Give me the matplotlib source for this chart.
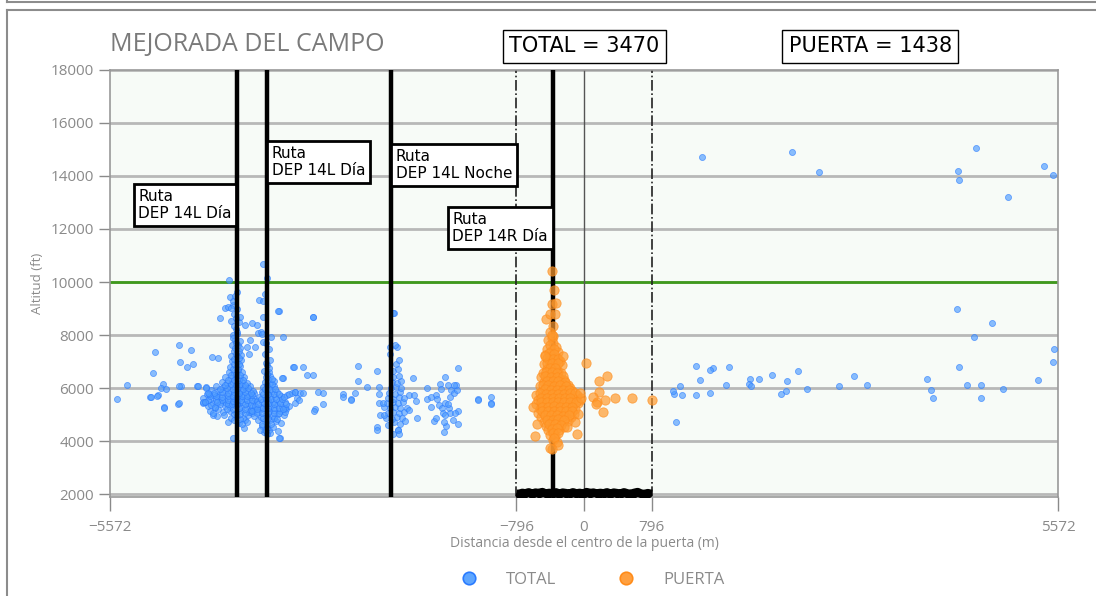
import numpy as np
import matplotlib.pyplot as plt
from matplotlib.lines import Line2D
from matplotlib.transforms import offset_copy

# Axis limits and ticks
x_lim = 5572
x_ticks = [-5572, -796, 0, 796, 5572]
y_ticks = [2000, 4000, 6000, 8000, 10000, 12000, 14000, 16000, 18000]
gate_half = 796
ceiling = 10000

# Route lines (x in m) and their labels
route_x = [-4081, -3728, -2270, -365]
route_labels = ["Ruta\nDEP 14L Día", "Ruta\nDEP 14L Día", "Ruta\nDEP 14L Noche", "Ruta\nDEP 14R Día"]
route_label_top = [13660, 15280, 15170, 12790]
route_label_side = ["right", "left", "left", "right"]

total_count = 3470
gate_count = 1438

# TOTAL tracks - dense cluster on the first route
cluster_a = [
    (-4185, 4720), (-4060, 4690), (-3985, 4780), (-4310, 4930), (-4155, 4880), (-4075, 4960), (-4005, 4870), (-3945, 4990),
    (-4395, 5120), (-4245, 5080), (-4160, 5150), (-4095, 5060), (-4025, 5130), (-3935, 5090), (-3875, 5170),
    (-4425, 5310), (-4335, 5260), (-4225, 5340), (-4165, 5280), (-4105, 5360), (-4035, 5290), (-3965, 5330), (-3905, 5270),
    (-4455, 5460), (-4365, 5420), (-4285, 5490), (-4205, 5440), (-4125, 5470), (-4065, 5410), (-4015, 5480), (-3945, 5430), (-3885, 5500),
    (-4475, 5620), (-4395, 5580), (-4315, 5650), (-4235, 5590), (-4165, 5630), (-4105, 5570), (-4045, 5640), (-3985, 5600), (-3925, 5660), (-3865, 5580),
    (-4435, 5760), (-4355, 5730), (-4275, 5790), (-4195, 5740), (-4115, 5780), (-4055, 5720), (-4005, 5770), (-3935, 5750), (-3875, 5800),
    (-4385, 5910), (-4305, 5880), (-4215, 5940), (-4145, 5890), (-4085, 5930), (-4035, 5870), (-3965, 5920), (-3895, 5880),
    (-4325, 6060), (-4245, 6020), (-4175, 6090), (-4105, 6040), (-4055, 6080), (-3985, 6030), (-3925, 6070),
    (-4255, 6210), (-4195, 6180), (-4125, 6240), (-4075, 6190), (-4025, 6230), (-3965, 6200),
    (-4215, 6400), (-4145, 6360), (-4095, 6430), (-4045, 6380), (-3995, 6410),
    (-4175, 6610), (-4115, 6580), (-4065, 6640), (-4025, 6600),
    (-4165, 6810), (-4095, 6780), (-4045, 6830),
    (-4135, 7010), (-4085, 6980), (-4035, 7040),
    (-4145, 7220), (-4075, 7190), (-4030, 7250),
    (-4115, 7410), (-4055, 7380), (-4135, 7610), (-4070, 7640),
    (-4105, 7820), (-4050, 7790), (-4125, 8010), (-4075, 8050),
    (-4095, 8230), (-4145, 8520), (-4060, 8480), (-4115, 8810),
]

# second layer of the first route cluster (fills the blob)
cluster_a_fill = [
    (-4120, 4800), (-4040, 4830), (-4230, 5000), (-4120, 5010), (-4050, 5020), (-3980, 5040), (-3900, 5050),
    (-4300, 5200), (-4200, 5220), (-4130, 5190), (-4060, 5230), (-3990, 5200), (-3920, 5180), (-3850, 5230),
    (-4380, 5370), (-4280, 5390), (-4190, 5380), (-4140, 5410), (-4080, 5400), (-3990, 5380), (-3920, 5370),
    (-4420, 5530), (-4330, 5550), (-4250, 5530), (-4180, 5540), (-4130, 5520), (-4080, 5510), (-4030, 5550), (-3960, 5530), (-3900, 5560),
    (-4400, 5690), (-4330, 5700), (-4250, 5680), (-4180, 5700), (-4130, 5690), (-4080, 5660), (-4020, 5700), (-3960, 5690), (-3900, 5720),
    (-4350, 5830), (-4260, 5850), (-4180, 5820), (-4110, 5850), (-4060, 5820), (-3990, 5840), (-3920, 5820),
    (-4280, 5980), (-4200, 6000), (-4130, 5970), (-4070, 6000), (-4010, 5980), (-3950, 6000),
    (-4220, 6120), (-4150, 6140), (-4090, 6130), (-4040, 6150), (-3990, 6120),
    (-4180, 6300), (-4110, 6290), (-4060, 6310), (-4010, 6300),
    (-4150, 6500), (-4090, 6520), (-4040, 6490), (-4130, 6710), (-4070, 6720),
    (-4110, 6900), (-4060, 6910), (-4120, 7110), (-4060, 7120), (-4095, 7300),
    (-4100, 7500), (-4040, 7520), (-4090, 7700), (-4130, 7900), (-4085, 8120), (-4110, 8350), (-4090, 8650),
    (-4080, 9000), (-4130, 9150),
]

# TOTAL tracks - second route
cluster_b = [
    (-3760, 4350), (-3700, 4420), (-3790, 4560), (-3725, 4610), (-3660, 4540),
    (-3830, 4780), (-3755, 4740), (-3690, 4810), (-3620, 4760),
    (-3880, 4960), (-3800, 4920), (-3740, 4990), (-3670, 4940), (-3600, 5010), (-3530, 4970),
    (-3900, 5150), (-3830, 5110), (-3765, 5180), (-3705, 5130), (-3640, 5170), (-3570, 5120), (-3500, 5190),
    (-3870, 5330), (-3800, 5290), (-3735, 5360), (-3675, 5310), (-3610, 5350), (-3545, 5300), (-3470, 5340),
    (-3850, 5500), (-3780, 5470), (-3720, 5530), (-3660, 5490), (-3590, 5520), (-3520, 5470),
    (-3820, 5680), (-3755, 5650), (-3695, 5710), (-3630, 5670), (-3565, 5700),
    (-3790, 5860), (-3730, 5830), (-3670, 5890), (-3610, 5850),
    (-3770, 6040), (-3710, 6010), (-3650, 6070),
    (-3750, 6230), (-3695, 6200), (-3640, 6260),
    (-3740, 6420), (-3690, 6460), (-3760, 6640), (-3705, 6610),
    (-3725, 6850), (-3690, 7050), (-3745, 7280), (-3700, 7480), (-3735, 7700), (-3680, 7920),
]

cluster_b_fill = [
    (-3730, 4500), (-3680, 4660), (-3770, 4850), (-3710, 4870), (-3640, 4860),
    (-3850, 5050), (-3780, 5050), (-3720, 5060), (-3650, 5070), (-3580, 5060), (-3520, 5080),
    (-3840, 5220), (-3770, 5240), (-3710, 5230), (-3650, 5250), (-3580, 5230), (-3510, 5250),
    (-3830, 5410), (-3760, 5420), (-3700, 5430), (-3640, 5410), (-3570, 5420), (-3500, 5400),
    (-3800, 5590), (-3740, 5600), (-3680, 5580), (-3620, 5600), (-3550, 5590),
    (-3770, 5760), (-3710, 5770), (-3650, 5760), (-3590, 5780),
    (-3750, 5950), (-3690, 5960), (-3630, 5950), (-3730, 6130), (-3670, 6140),
    (-3720, 6330), (-3670, 6340), (-3730, 6530), (-3700, 6750), (-3740, 6950),
]

# TOTAL tracks - night route
cluster_c = [
    (-2250, 4280), (-2190, 4420), (-2300, 4610), (-2230, 4700), (-2160, 4650),
    (-2330, 4880), (-2260, 4840), (-2200, 4920), (-2140, 4860),
    (-2310, 5060), (-2240, 5110), (-2180, 5040), (-2120, 5100),
    (-2350, 5270), (-2280, 5230), (-2220, 5300), (-2160, 5250),
    (-2320, 5440), (-2250, 5480), (-2190, 5420), (-2130, 5460),
    (-2300, 5640), (-2240, 5600), (-2180, 5670), (-2120, 5620),
    (-2290, 5830), (-2220, 5790), (-2160, 5850),
    (-2270, 6010), (-2210, 6050), (-2150, 5990),
    (-2260, 6220), (-2200, 6180), (-2150, 6250),
    (-2240, 6420), (-2180, 6460), (-2250, 6650), (-2190, 6700),
    (-2210, 6900), (-2170, 7050), (-2280, 7290), (-2200, 7560), (-2222, 7620), (-2234, 8820),
]

# TOTAL tracks - scattered points
blue_scatter = [
    (-5496, 5580), (-5370, 6110), (-5072, 6550), (-5041, 7370), (-5104, 5670), (-5010, 5740),
    (-4955, 6140), (-4974, 6010), (-4919, 5960), (-4936, 5280), (-5092, 5660), (-5021, 5700),
    (-4933, 5250), (-4775, 5400), (-4743, 6070), (-4545, 6070), (-4475, 5430), (-4445, 6040), (-4410, 5780), (-4363, 4980),
    (-4759, 7620), (-4751, 6990), (-4759, 6060), (-4767, 5450), (-4622, 7420), (-4602, 6890), (-4665, 6790),
    (-4539, 6060), (-4445, 6010), (-4477, 5490), (-4457, 5490), (-4422, 5820), (-4375, 7180), (-4304, 7140),
    (-4359, 5040), (-4281, 8630), (-4218, 9010), (-4190, 9070), (-4155, 9010), (-4171, 10070), (-4163, 9430),
    (-4130, 9280), (-4100, 9480), (-4080, 9630), (-4045, 8690), (-3987, 8380), (-3908, 8440), (-3849, 8380),
    (-3830, 8060), (-3800, 8100), (-3785, 8050), (-3770, 7750), (-3928, 7810), (-3866, 7560), (-3956, 7530), (-3940, 7300),
    (-3818, 9320), (-3779, 9300), (-3771, 8690), (-3751, 9540), (-3732, 10160), (-3775, 10670),
    (-3590, 8910), (-3536, 7910), (-3418, 6800), (-3544, 6360), (-3399, 5860), (-3438, 5800), (-3497, 5740), (-3379, 5610),
    (-3575, 4120), (-3693, 4300), (-3732, 4250), (-3751, 4400), (-3810, 4430), (-3790, 4640),
    (-3963, 4700), (-4002, 4500), (-4020, 4640), (-4132, 4100), (-4343, 5280), (-4320, 5490),
    (-3595, 8920), (-3191, 8670), (-3183, 8690), (-3410, 6800), (-3308, 6800), (-3261, 6500), (-3191, 6500), (-3552, 6360),
    (-3528, 5670), (-3465, 5770), (-3398, 5860), (-3340, 5830), (-3308, 5830), (-3399, 5420), (-3348, 5550),
    (-3536, 5220), (-3567, 4670), (-3583, 4120), (-3607, 4820), (-3595, 4390),
    (-3168, 5190), (-3124, 5860), (-3065, 5800), (-3065, 5390), (-3175, 5130),
    (-2838, 5770), (-2830, 5650), (-2736, 5570), (-2689, 5830), (-2658, 6830), (-2654, 6260), (-2556, 6030), (-2740, 5550),
    (-2434, 6650), (-2414, 6050), (-2414, 5770), (-2414, 5420), (-2367, 5450), (-2398, 4990), (-2351, 4990), (-2438, 4520), (-2434, 4410),
    (-2242, 8840), (-2281, 7560), (-2007, 6360), (-2054, 5720), (-1999, 5720), (-1975, 5520), (-2085, 5240),
    (-1960, 4860), (-2101, 4760), (-2183, 4410), (-2171, 4260), (-2060, 5170),
    (-1850, 5990), (-1803, 5300), (-1740, 5720), (-1725, 5570), (-1701, 5360), (-1673, 5230), (-1846, 5580), (-1800, 5660),
    (-1693, 6150), (-1634, 6400), (-1603, 6110), (-1634, 5420), (-1654, 5040), (-1681, 5970),
    (-1568, 5920), (-1529, 5800), (-1584, 5230), (-1576, 5070), (-1544, 4790), (-1600, 5400), (-1576, 5660),
    (-1482, 6740), (-1482, 5150), (-1482, 4640), (-1490, 5920), (-1500, 6100), (-1512, 5060), (-1529, 6130),
    (-1760, 4760), (-1740, 4850), (-1635, 4980), (-1628, 4580), (-1647, 4340), (-1650, 4700),
    (-1243, 5570), (-1247, 5550), (-1097, 5670), (-1097, 5420), (-1094, 5380),
]

# TOTAL tracks - east of the gate
blue_east = [
    (1387, 14730), (2449, 14920), (2767, 14140), (4395, 14200), (4410, 13850), (4606, 15070),
    (4982, 13220), (5406, 14390), (5512, 14050),
    (4382, 8970), (4802, 8440), (4590, 7910), (5524, 7470), (5512, 6980), (4410, 6790), (5343, 6310),
    (4030, 6350), (4077, 5920), (4108, 5630), (4500, 6110), (4665, 6110), (4665, 5630), (4924, 5970),
    (3324, 6110), (3175, 6450), (3000, 6060), (2619, 5970), (2513, 6640), (2391, 6260), (2375, 5870),
    (2313, 5770), (2207, 6500), (2058, 6350), (1952, 6350), (1937, 6160), (1967, 6060), (1709, 6790),
    (1666, 6110), (1513, 6740), (1482, 6690), (1482, 5820), (1364, 6310), (1321, 6840), (1321, 5720),
    (1152, 5720), (1125, 6060), (1062, 5770), (1047, 5870), (1078, 4720),
]

# PUERTA tracks (through the gate)
orange_core = [
    (-400, 8100), (-360, 7950), (-420, 7820), (-370, 7700), (-330, 7560), (-430, 7480), (-390, 7400), (-300, 7350),
    (-460, 7250), (-380, 7200), (-320, 7150), (-410, 7050), (-350, 6980), (-280, 7020), (-470, 6900), (-400, 6850),
    (-330, 6800), (-260, 6870), (-440, 6700), (-370, 6660), (-300, 6620), (-480, 6560), (-410, 6520), (-340, 6480), (-270, 6550),
    (-500, 6400), (-430, 6360), (-360, 6330), (-290, 6380), (-230, 6300), (-470, 6220), (-400, 6180), (-330, 6150),
    (-260, 6200), (-190, 6120), (-520, 6060), (-450, 6020), (-380, 5990), (-310, 6040), (-240, 5970), (-170, 6010),
    (-490, 5880), (-420, 5850), (-350, 5820), (-280, 5870), (-210, 5840), (-140, 5900),
    (-560, 5740), (-490, 5700), (-420, 5680), (-350, 5730), (-280, 5660), (-210, 5710), (-140, 5680), (-80, 5740),
    (-540, 5560), (-470, 5530), (-400, 5590), (-330, 5520), (-260, 5570), (-190, 5540), (-120, 5600), (-50, 5560),
    (-560, 5400), (-490, 5360), (-420, 5420), (-350, 5380), (-280, 5350), (-210, 5410), (-140, 5370), (-70, 5420),
    (-520, 5220), (-450, 5190), (-380, 5250), (-310, 5210), (-240, 5180), (-170, 5240), (-100, 5200),
    (-540, 5060), (-470, 5020), (-400, 5080), (-330, 5040), (-260, 5000), (-190, 5070), (-120, 5030),
    (-500, 4900), (-430, 4860), (-360, 4920), (-290, 4880), (-220, 4840), (-150, 4900),
    (-470, 4720), (-400, 4680), (-330, 4740), (-260, 4700), (-190, 4760),
    (-450, 4560), (-380, 4520), (-310, 4580), (-240, 4540),
    (-420, 4400), (-350, 4360), (-290, 4420), (-400, 4220), (-340, 4180), (-370, 4050), (-320, 3950),
]

orange_fill = [
    (-380, 7880), (-395, 7620), (-355, 7460), (-410, 7330), (-350, 7290), (-430, 7120), (-370, 7100), (-300, 7090),
    (-440, 6960), (-380, 6930), (-310, 6930), (-400, 6760), (-340, 6740), (-450, 6620), (-380, 6590), (-320, 6560),
    (-460, 6460), (-390, 6430), (-320, 6420), (-250, 6450), (-430, 6280), (-370, 6260), (-300, 6270), (-220, 6230),
    (-480, 6130), (-420, 6110), (-350, 6090), (-280, 6110), (-210, 6060), (-460, 5950), (-390, 5920), (-320, 5930),
    (-250, 5910), (-180, 5940), (-520, 5810), (-450, 5780), (-380, 5770), (-310, 5790), (-240, 5770), (-170, 5800),
    (-100, 5830), (-500, 5640), (-430, 5620), (-360, 5640), (-290, 5610), (-220, 5630), (-160, 5620),
    (-510, 5480), (-440, 5480), (-370, 5470), (-300, 5460), (-230, 5480), (-160, 5470), (-90, 5490),
    (-490, 5300), (-420, 5300), (-350, 5310), (-280, 5290), (-210, 5300), (-140, 5290),
    (-490, 5130), (-420, 5140), (-350, 5150), (-280, 5120), (-210, 5140), (-140, 5130),
    (-460, 4970), (-390, 4980), (-320, 4970), (-250, 4950), (-180, 4980),
    (-440, 4800), (-370, 4790), (-300, 4820), (-230, 4780), (-410, 4630), (-340, 4640), (-270, 4620),
    (-380, 4460), (-320, 4480), (-370, 4300), (-310, 4290), (-350, 4120),
]

orange_scatter = [
    (-373, 10430), (-349, 9710), (-380, 9160), (-330, 9210), (-447, 8590), (-400, 8780), (-340, 8780),
    (-365, 8340), (-372, 8000), (-243, 7190), (24, 6940), (-459, 7190), (267, 6460), (173, 6260),
    (173, 5860), (110, 5680), (149, 5490), (141, 5390), (251, 5540), (368, 5640), (568, 5640), (803, 5540),
    (220, 5110), (-596, 5300), (-549, 4630), (-580, 4180), (-82, 4280), (-71, 5030), (-110, 4730),
    (-204, 4520), (-302, 3850), (-380, 3690), (-400, 3750), (-35, 5640), (-50, 5820),
]

# ground track through the gate
ground_x = [-796, -760, -725, -690, -650, -610, -570, -530, -490, -450, -410, -370, -330, -290, -250, -210,
            -170, -130, -90, -50, -10, 30, 70, 110, 150, 190, 230, 270, 310, 350, 390, 430, 470, 510,
            550, 590, 630, 670, 710, 750, 796]
ground_y = [1990, 1975, 2020, 2000, 2040, 1980, 2030, 2010, 2050, 1990, 2020, 2000, 2040, 1980, 2030, 2010,
            1990, 2040, 2000, 2020, 1980, 2050, 2010, 2030, 1990, 2020, 2000, 2040, 1980, 2030, 2010, 1990,
            2040, 2000, 1980, 2020, 2050, 1990, 1975, 2010, 1980]

blue_pts = np.array(cluster_a + cluster_a_fill + cluster_b + cluster_b_fill + cluster_c + blue_scatter + blue_east)
orange_pts = np.array(orange_core + orange_fill + orange_scatter)

fig = plt.figure(figsize=(10.96, 5.96), dpi=100)
ax = fig.add_axes([0.1004, 0.1653, 0.8649, 0.7173])
ax.set_facecolor('#f7fbf7')

gray = '#8a8a8a'
ax.set_xlim(-x_lim, x_lim)
ax.set_ylim(1870, 18000)

for yt in y_ticks:
    ax.axhline(yt, color='#b8b8b8', lw=2, zorder=1)
ax.axhline(ceiling, color='#3f9a1c', lw=2, zorder=2)

ax.axvline(0, color='#555555', lw=1, zorder=2)
for gx in (-gate_half, gate_half):
    ax.axvline(gx, color='#222222', lw=1.2, ls='-.', zorder=2)

ax.scatter(blue_pts[:, 0], blue_pts[:, 1], s=19, color='#4d9bff', alpha=0.65,
           edgecolors='#2a7bff', linewidths=0.6, zorder=3)

for rx in route_x:
    ax.axvline(rx, color='black', lw=3.2, zorder=4)

ax.scatter(orange_pts[:, 0], orange_pts[:, 1], s=45, color='#ff9a2e', alpha=0.7,
           edgecolors='#ff8c1a', linewidths=0.6, zorder=5)

ax.plot(ground_x, ground_y, color='black', lw=7, zorder=6, solid_joinstyle='round', solid_capstyle='butt')
ax.scatter(ground_x[1:-1], ground_y[1:-1], s=20, color='black', zorder=6)

for rx, lab, top, side in zip(route_x, route_labels, route_label_top, route_label_side):
    dx = -5 if side == 'right' else 5
    tr = offset_copy(ax.transData, fig=fig, x=dx, y=-4, units='dots')
    ax.text(rx, top, lab, transform=tr, ha=side, va='top', multialignment='left', fontsize=11,
            family='DejaVu Sans', linespacing=1.2, zorder=7,
            bbox=dict(boxstyle='square,pad=0.3', fc='white', ec='black', lw=2))

ax.set_xticks(x_ticks)
ax.set_xticklabels([f'{t}'.replace('-', '\u2212') for t in x_ticks])
ax.set_yticks(y_ticks)
ax.tick_params(axis='both', colors=gray, labelsize=11, length=8, width=1)
ax.tick_params(axis='x', length=10, pad=6)
for lbl in ax.get_xticklabels() + ax.get_yticklabels():
    lbl.set_family('Open Sans')
    lbl.set_color(gray)
for sp in ax.spines.values():
    sp.set_color('#999999')
    sp.set_linewidth(1.2)

ax.set_xlabel('Distancia desde el centro de la puerta (m)', fontsize=10, color=gray,
              family='Open Sans', labelpad=1)
ax.set_ylabel('Altitud (ft)', fontsize=9.5, color=gray, family='Open Sans', labelpad=5)

fig.text(0.1004, 0.905, 'MEJORADA DEL CAMPO', fontsize=18, color='#7a7a7a',
         family='Open Sans', ha='left', va='bottom')
fig.text(0.533, 0.922, f'TOTAL = {total_count}', fontsize=15, family='DejaVu Sans', ha='center',
         va='center', bbox=dict(boxstyle='square,pad=0.3', fc='white', ec='black', lw=1))
fig.text(0.794, 0.922, f'PUERTA = {gate_count}', fontsize=15, family='DejaVu Sans', ha='center',
         va='center', bbox=dict(boxstyle='square,pad=0.3', fc='white', ec='black', lw=1))

handles = [Line2D([], [], ls='none', marker='o', ms=9, mfc='#5ea6ff', mec='#2a7bff', mew=1.2),
           Line2D([], [], ls='none', marker='o', ms=9, mfc='#ffa040', mec='#ff8c1a', mew=1.2)]
leg = fig.legend(handles, ['TOTAL', 'PUERTA'], loc='center', bbox_to_anchor=(0.537, 0.027),
                 ncol=2, frameon=False, columnspacing=3.2, handletextpad=1.2,
                 prop={'family': 'Open Sans', 'size': 12})
for t in leg.get_texts():
    t.set_color(gray)

# panel frame around the chart
frame_kw = dict(color='#8c8c8c', lw=1.5, transform=fig.transFigure)
fig.add_artist(Line2D([7 / 1096, 1], [1 - 2 / 596, 1 - 2 / 596], **frame_kw))
fig.add_artist(Line2D([7 / 1096, 7 / 1096], [1, 1 - 2 / 596], **frame_kw))
fig.add_artist(Line2D([7 / 1096, 1], [1 - 10 / 596, 1 - 10 / 596], **frame_kw))
fig.add_artist(Line2D([7 / 1096, 7 / 1096], [0, 1 - 10 / 596], **frame_kw))

fig.savefig('out.png', dpi=100)
